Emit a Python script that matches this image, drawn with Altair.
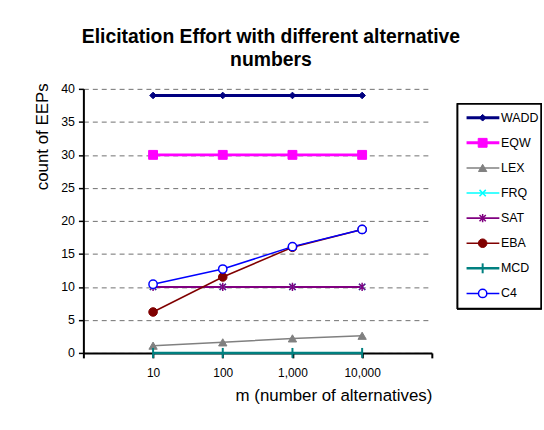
import altair as alt
import pandas as pd

series = ["WADD", "EQW", "LEX", "FRQ", "SAT", "EBA", "MCD", "C4"]
m_values = [10, 100, 1000, 10000]
wadd = [39, 39, 39, 39]
eqw = [30, 30, 30, 30]
lex = [1.1, 1.6, 2.2, 2.6]
frq = [10, 10, 10, 10]
sat = [10, 10, 10, 10]
eba = [6.2, 11.5, 16.0, 18.7]
mcd = [0, 0, 0, 0]
c4 = [10.4, 12.7, 16.1, 18.7]

# styles (kept out of the data)
colors = ["#000080", "#FF00FF", "#808080", "#00FFFF", "#800080", "#800000", "#008080", "#0000FF"]
fills = ["#000080", "#FF00FF", "#808080", "none", "none", "#800000", "none", "#FFFFFF"]
shapes = [
    "diamond",
    "square",
    "triangle-up",
    "M-1,-1L1,1M-1,1L1,-1",
    "M-1,-1L1,1M-1,1L1,-1M0,-1.3L0,1.3",
    "circle",
    "M0,-1L0,1",
    "circle",
]
sizes = [45, 80, 70, 40, 40, 75, 100, 70]
pstroke = [1, 1, 1, 1.5, 1.5, 1, 2, 1.5]
widths = [3, 3, 1.5, 1.5, 2, 1.5, 2.5, 1.5]

all_vals = [wadd, eqw, lex, frq, sat, eba, mcd, c4]
rows = []
for si, (s, vals) in enumerate(zip(series, all_vals)):
    for mv, v in zip(m_values, vals):
        rows.append({"series": s, "m": mv, "v": v})
df = pd.DataFrame(rows)

FONT = "Liberation Sans"

x_scale = alt.Scale(type="log", domain=[1, 100000])
y_scale = alt.Scale(domain=[0, 40], nice=False)

x_axis = alt.Axis(
    values=[1, 10, 100, 1000, 10000, 100000],
    labelExpr="datum.value == 1 || datum.value == 100000 ? '' : format(datum.value, ',')",
    title="m (number of alternatives)",
    titleAnchor="end",
    titleFontSize=17,
    titleFontWeight="normal",
    titleFont=FONT,
    titleColor="#000000",
    titlePadding=9,
    labelFont=FONT,
    labelFontSize=12,
    labelColor="#000000",
    labelPadding=10,
    domainColor="#000000",
    domainWidth=2,
    tickColor="#000000",
    tickWidth=2,
    tickSize=5,
    grid=False,
    zindex=0,
)
y_axis = alt.Axis(
    values=[0, 5, 10, 15, 20, 25, 30, 35, 40],
    title="count of EEPs",
    titleAlign="right",
    titleAnchor="end",
    titleY=-6,
    titleFontSize=17,
    titleFontWeight="normal",
    titleFont=FONT,
    titleColor="#000000",
    titlePadding=9,
    labelFont=FONT,
    labelFontSize=12.5,
    labelColor="#000000",
    labelPadding=4,
    domainColor="#000000",
    domainWidth=2,
    tickColor="#000000",
    tickWidth=1.5,
    tickSize=5,
    grid=True,
    gridColor="#707070",
    gridDash=[5, 4],
    gridWidth=1,
    zindex=0,
)


def point_props(i):
    pm = dict(shape=shapes[i], size=sizes[i], stroke=colors[i], strokeWidth=pstroke[i], opacity=1)
    if fills[i] != "none":
        pm["fill"] = fills[i]
        pm["fillOpacity"] = 1
    else:
        pm["fillOpacity"] = 0
    return pm


layers = []
for i, s in enumerate(series):
    b = alt.Chart(df).transform_filter(alt.datum.series == s).encode(
        x=alt.X("m:Q", scale=x_scale, axis=x_axis),
        y=alt.Y("v:Q", scale=y_scale, axis=y_axis),
    )
    layers.append(b.mark_line(color=colors[i], strokeWidth=widths[i]))
for i, s in enumerate(series):
    b = alt.Chart(df).transform_filter(alt.datum.series == s).encode(
        x=alt.X("m:Q", scale=x_scale, axis=x_axis),
        y=alt.Y("v:Q", scale=y_scale, axis=y_axis),
    )
    layers.append(b.mark_point(**point_props(i)))
main = alt.layer(*layers).properties(
    width=351, height=266, view=alt.ViewBackground(stroke="transparent", strokeWidth=0)
)

# custom legend panel (layout in legend-index units)
leg_df = pd.DataFrame({"series": series, "idx": list(range(len(series)))})
lx = alt.Scale(domain=[0, 1])
ly = alt.Scale(domain=[-1.15, 9.37], reverse=True)

box = alt.Chart(leg_df).mark_rect(fill="white", stroke="black", strokeWidth=1.5).encode(
    x=alt.datum(0.0, scale=lx, axis=None),
    x2=alt.datum(1.0),
    y=alt.datum(-0.55, scale=ly, axis=None),
    y2=alt.datum(7.6),
)
leg_layers = [box]
for i, s in enumerate(series):
    lb = alt.Chart(leg_df).transform_filter(alt.datum.series == s)
    leg_layers.append(
        lb.mark_rule(color=colors[i], strokeWidth=widths[i]).encode(
            x=alt.datum(0.107, scale=lx, axis=None),
            x2=alt.datum(0.5),
            y=alt.Y("idx:Q", scale=ly, axis=None),
        )
    )
    leg_layers.append(
        lb.mark_point(**point_props(i)).encode(
            x=alt.datum(0.3, scale=lx, axis=None),
            y=alt.Y("idx:Q", scale=ly, axis=None),
        )
    )
leg_layers.append(
    alt.Chart(leg_df).mark_text(align="left", baseline="middle", font=FONT, fontSize=12.5, color="#000000").encode(
        x=alt.datum(0.52, scale=lx, axis=None),
        y=alt.Y("idx:Q", scale=ly, axis=None),
        text="series:N",
    )
)
legend = alt.layer(*leg_layers).properties(
    width=84, height=266, view=alt.ViewBackground(stroke="transparent", strokeWidth=0)
)

chart = (
    alt.hconcat(main, legend, spacing=24)
    .resolve_scale(x="independent", y="independent")
    .properties(
        title=alt.TitleParams(
            ["Elicitation Effort with different alternative", "numbers"],
            fontSize=19.5,
            fontWeight="bold",
            font=FONT,
            color="#000000",
            anchor="middle",
            lineHeight=23,
            offset=13,
            dx=-17,
        ),
        padding={"left": 34, "top": 25, "right": 2, "bottom": 5},
    )
    .configure_view(strokeWidth=0, stroke="transparent")
    .configure(background="white")
)

chart.save("out.html", embed_options={"renderer": "svg", "actions": False})
